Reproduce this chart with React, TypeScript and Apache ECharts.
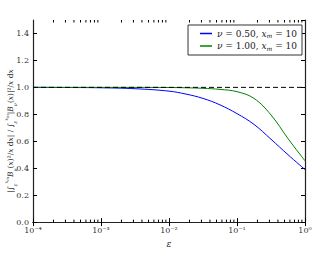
import React, { useEffect, useRef } from "react";
import * as echarts from "echarts";

const logEps = [-4, -3.5, -3, -2.5, -2, -1.75, -1.5, -1.25, -1, -0.75, -0.5, -0.25, 0];
const blueValues = [1.0, 0.999, 0.997, 0.99, 0.972, 0.95, 0.918, 0.87, 0.805, 0.725, 0.615, 0.5, 0.39];
const greenValues = [1.0, 1.0, 1.0, 1.0, 0.999, 0.997, 0.993, 0.985, 0.968, 0.918, 0.795, 0.62, 0.455];
const seriesNames = ["nu050", "nu100"];
const seriesColors = ["#0000ff", "#008000"];
const legendLabels = ["{i|ν} = 0.50, {i|x}{sub|m} = 10", "{i|ν} = 1.00, {i|x}{sub|m} = 10"];
const xMinorTicks: number[] = [];
for (let n = -4; n < 0; n++) for (let k = 2; k <= 9; k++) xMinorTicks.push(k * Math.pow(10, n));

const sup: Record<string, string> = { "-": "⁻", "0": "⁰", "1": "¹", "2": "²", "3": "³", "4": "⁴" };

export default function App() {
  const ref = useRef<HTMLDivElement>(null);
  useEffect(() => {
    const chart = echarts.init(ref.current!, undefined, { renderer: "svg" });
    const font = "DejaVu Serif";
    const mk = (vals: number[]) => logEps.map((l, i) => [Math.pow(10, l), vals[i]]);
    const tickStyle = { inside: true, length: 4, lineStyle: { color: "#000", width: 1 } };
    const axisLine = { show: true, lineStyle: { color: "#222", width: 1.2 } };
    const c = "#222";
    const ylabel =
      "{n||∫}{sb|ε}{sp|x}{sps|m}{i|B}{sb|ν}{n|(}{i|x}{n|)²/}{i|x}{n| d}{i|x}{n|| / ∫}{sb|ε}{sp|x}{sps|m}{n||}{i|B}{sb|ν}{n|(}{i|x}{n|)|²/}{i|x}{n| d}{i|x}";
    const minorTickSeries = (yVal: number, dir: number) => ({
      type: "custom",
      data: xMinorTicks.map((v) => [v, yVal]),
      silent: true,
      clip: false,
      z: 5,
      renderItem: (_p: any, api: any) => {
        const pt = api.coord([api.value(0), api.value(1)]);
        return {
          type: "line",
          shape: { x1: pt[0], y1: pt[1], x2: pt[0], y2: pt[1] + dir * 2.5 },
          style: { stroke: "#000", lineWidth: 1 },
        };
      },
    });
    chart.setOption({
      animation: false,
      grid: { left: 33, right: 24, top: 20, bottom: 21, containLabel: false },
      legend: {
        data: seriesNames.map((n, i) => ({ name: n, itemStyle: { color: seriesColors[i] } })),
        orient: "vertical",
        right: 27,
        top: 25,
        padding: [4, 5, 4, 12],
        itemGap: 3,
        itemWidth: 12,
        itemHeight: 1.5,
        icon: "rect",
        backgroundColor: "#fff",
        borderColor: "#333",
        borderWidth: 1,
        formatter: (name: string) => legendLabels[seriesNames.indexOf(name)],
        textStyle: {
          fontFamily: font,
          fontSize: 9,
          color: c,
          rich: {
            i: { fontFamily: font, fontStyle: "italic", fontSize: 9, color: c },
            sub: { fontFamily: font, fontStyle: "italic", fontSize: 6, color: c, verticalAlign: "bottom", padding: [4, 0, 0, 0] },
          },
        },
      },
      xAxis: [
        {
          type: "log",
          logBase: 10,
          min: 1e-4,
          max: 1,
          axisLine,
          axisTick: tickStyle,
          splitLine: { show: false },
          axisLabel: {
            fontFamily: font,
            fontSize: 8,
            color: "#333",
            margin: 4,
            formatter: (v: number) => {
              const e = Math.round(Math.log10(v)).toString();
              return "10" + e.split("").map((ch) => sup[ch]).join("");
            },
          },
          name: "ε",
          nameLocation: "middle",
          nameGap: 14,
          nameTextStyle: { fontFamily: font, fontStyle: "italic", fontSize: 9, color: c },
        },
        {
          type: "log",
          logBase: 10,
          min: 1e-4,
          max: 1,
          position: "top",
          axisLine,
          axisTick: tickStyle,
          axisLabel: { show: false },
          splitLine: { show: false },
        },
      ],
      yAxis: [
        {
          type: "value",
          min: 0,
          max: 1.5,
          interval: 0.2,
          axisLine,
          axisTick: tickStyle,
          splitLine: { show: false },
          axisLabel: {
            fontFamily: font,
            fontSize: 8,
            color: "#333",
            margin: 4,
            showMaxLabel: false,
            formatter: (v: number) => (v > 1.45 ? "" : v.toFixed(1)),
          },
        },
        {
          type: "value",
          min: 0,
          max: 1.5,
          interval: 0.2,
          position: "right",
          axisLine,
          axisTick: tickStyle,
          axisLabel: { show: false },
          splitLine: { show: false },
        },
      ],
      graphic: [
        {
          type: "text",
          x: 10,
          y: 131,
          rotation: Math.PI / 2,
          style: {
            text: ylabel,
            fontFamily: font,
            fontSize: 7.5,
            fill: c,
            align: "center",
            verticalAlign: "middle",
            rich: {
              n: { fontFamily: font, fontSize: 7.5, fill: c, lineHeight: 14, verticalAlign: "middle" },
              i: { fontFamily: font, fontStyle: "italic", fontSize: 7.5, fill: c, lineHeight: 14, verticalAlign: "middle" },
              sb: { fontFamily: font, fontStyle: "italic", fontSize: 5, fill: c, lineHeight: 14, verticalAlign: "bottom" },
              sp: { fontFamily: font, fontStyle: "italic", fontSize: 5, fill: c, lineHeight: 14, verticalAlign: "top" },
              sps: { fontFamily: font, fontStyle: "italic", fontSize: 4, fill: c, lineHeight: 14, verticalAlign: "top", padding: [2, 0, 0, 0] },
            },
          },
        },
      ],
      series: [
        {
          name: seriesNames[0],
          type: "line",
          data: mk(blueValues),
          smooth: 0.4,
          showSymbol: false,
          color: seriesColors[0],
          lineStyle: { color: seriesColors[0], width: 1 },
        },
        {
          name: seriesNames[1],
          type: "line",
          data: mk(greenValues),
          smooth: 0.4,
          showSymbol: false,
          color: seriesColors[1],
          lineStyle: { color: seriesColors[1], width: 1 },
        },
        {
          name: "ref",
          type: "line",
          data: [[1e-4, 1], [1, 1]],
          showSymbol: false,
          lineStyle: { color: "#000", width: 1, type: [5, 3] },
        },
        minorTickSeries(0, -1),
        minorTickSeries(1.5, 1),
      ],
    });
    return () => chart.dispose();
  }, []);
  return (
    <div
      ref={ref}
      style={{ position: "fixed", left: 0, top: 0, width: 329, height: 253, background: "#fff" }}
    />
  );
}
